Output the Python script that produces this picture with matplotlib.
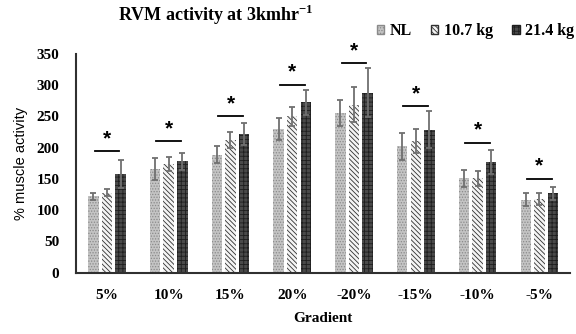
import numpy as np
import matplotlib.pyplot as plt
from matplotlib.patches import Patch

plt.rcParams['hatch.linewidth'] = 0.6
plt.rcParams['mathtext.fontset'] = 'custom'
plt.rcParams['mathtext.bf'] = 'Liberation Serif:bold'
plt.rcParams['mathtext.rm'] = 'Liberation Serif'

gradients = ['5%', '10%', '15%', '20%', '-20%', '-15%', '-10%', '-5%']
series = ['NL', '10.7 kg', '21.4 kg']

nl = [122, 166, 189, 230, 256, 202, 151, 117]
kg10 = [128, 174, 212, 250, 269, 211, 151, 118]
kg21 = [158, 178, 222, 273, 288, 229, 177, 127]

nl_err = [5, 17, 14, 18, 21, 21, 14, 10]
kg10_err = [6, 11, 13, 15, 28, 19, 12, 9]
kg21_err = [22, 14, 18, 20, 39, 30, 19, 10]

# height of the significance bar over each group
sig_y = [194, 210, 250, 301, 335, 266, 208, 150]


def main():
    fig = plt.figure(figsize=(5.76, 3.34), dpi=100)
    ax = fig.add_axes([0.132, 0.1835, 0.858, 0.655])

    x = np.arange(len(gradients))
    w = 0.17
    step = 0.22
    styles = [
        dict(facecolor='#c4c4c4', edgecolor='#8a8a8a', hatch='......'),
        dict(facecolor='#f4f4f4', edgecolor='#303030', hatch='\\\\\\\\\\\\\\'),
        dict(facecolor='#4a4a4a', edgecolor='#1e1e1e', hatch='++++'),
    ]
    vals = [nl, kg10, kg21]
    errs = [nl_err, kg10_err, kg21_err]
    for i in range(3):
        xs = x + (i - 1) * step
        ax.bar(xs, vals[i], w, linewidth=0, **styles[i])
        ax.errorbar(xs, vals[i], yerr=errs[i], fmt='none', ecolor='#707070',
                    elinewidth=1.3, capsize=2.5, capthick=1.3)

    for xi, yi in zip(x, sig_y):
        ax.plot([xi - 0.2, xi + 0.2], [yi, yi], color='black', lw=1.3)
        ax.text(xi, yi + 5, '*', ha='center', va='bottom', fontsize=15,
                fontweight='bold', family='Liberation Sans')

    ax.set_xlim(-0.5, 7.5)
    ax.set_ylim(0, 350)
    ax.set_yticks(range(0, 351, 50))
    ax.set_xticks(x)
    ax.set_xticklabels(gradients)
    for sp in ['top', 'right']:
        ax.spines[sp].set_visible(False)
    for sp in ['left', 'bottom']:
        ax.spines[sp].set_linewidth(1.5)
        ax.spines[sp].set_color('#303030')
    ax.tick_params(length=0)
    ax.tick_params(axis='x', pad=12)
    ax.tick_params(axis='y', pad=12)
    for lab in ax.get_xticklabels() + ax.get_yticklabels():
        lab.set_family('Liberation Serif')
        lab.set_fontweight('bold')
        lab.set_fontsize(11)

    fig.text(0.5 * (76 + 570) / 576, 1 - 319 / 334, 'Gradient', ha='center',
             va='center', family='Liberation Serif', fontweight='bold',
             fontsize=11)
    fig.text(21 / 576, 0.5 * (0.1835 * 2 + 0.655), '% muscle activity',
             rotation=90, ha='center', va='center', family='Liberation Sans',
             fontsize=10.5)

    fig.text(216 / 576, 1 - 15 / 334, 'RVM activity at 3kmhr$^{\\mathbf{-1}}$',
             ha='center', va='center', family='Liberation Serif',
             fontweight='bold', fontsize=13)

    handles = [Patch(label=s, **st) for s, st in zip(series, styles)]
    fig.legend(handles=handles, loc='center right', ncol=3, frameon=False,
               bbox_to_anchor=(0.997, 1 - 31 / 334), handlelength=0.45,
               handleheight=0.45, handletextpad=0.35, columnspacing=1.2,
               borderpad=0, borderaxespad=0,
               prop=dict(family='Liberation Serif', weight='bold', size=11.5))

    fig.savefig('out.png', dpi=100)


if __name__ == '__main__':
    main()
